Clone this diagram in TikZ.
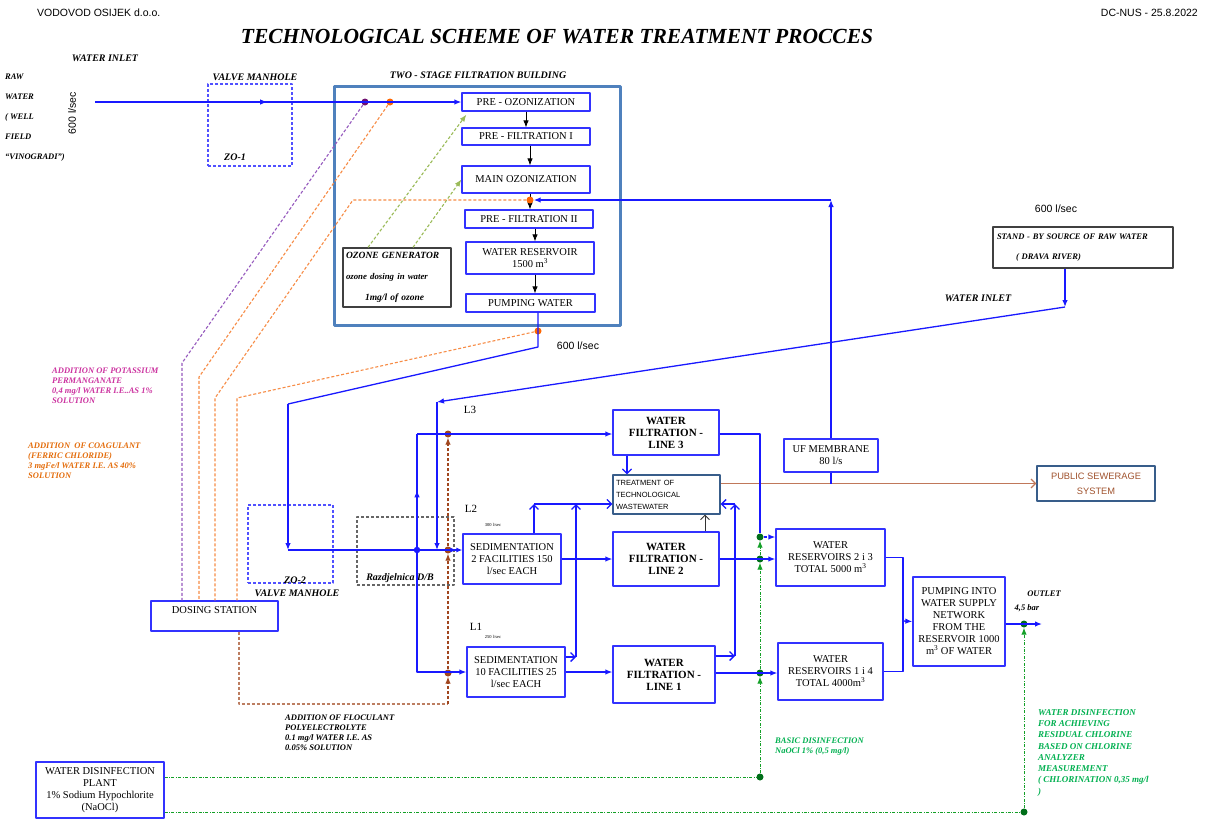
\documentclass[tikz,border=0pt]{standalone}
\usepackage{fontspec}
\setmainfont{Liberation Serif}
\newfontfamily\arialfont{Liberation Sans}
\usetikzlibrary{arrows.meta,decorations.markings}
\definecolor{vblue}{RGB}{25,25,255}
\definecolor{boxblue}{RGB}{50,50,255}
\definecolor{steel}{RGB}{79,129,189}
\definecolor{steeldk}{RGB}{56,93,138}
\definecolor{kmnline}{RGB}{150,90,190}
\definecolor{kmndot}{RGB}{112,16,112}
\definecolor{kmntxt}{RGB}{204,51,160}
\definecolor{coag}{RGB}{247,140,70}
\definecolor{coagdot}{RGB}{255,102,0}
\definecolor{coagtxt}{RGB}{228,108,10}
\definecolor{flocbrown}{RGB}{160,70,30}
\definecolor{sewbrown}{RGB}{192,120,90}
\definecolor{sewtxt}{RGB}{160,82,45}
\definecolor{clgreen}{RGB}{20,160,40}
\definecolor{cldot}{RGB}{0,110,25}
\definecolor{cltxt}{RGB}{0,176,80}
\definecolor{ozgreen}{RGB}{155,187,89}

\begin{document}
\begin{tikzpicture}[x=1pt,y=-1pt,>={Latex[length=7pt,width=5.5pt]},line join=round,
  box/.style={draw=boxblue,line width=1.3,fill=white,align=center,inner sep=1pt,font=\fontsize{10.5}{12}\selectfont},
  boldbox/.style={box,font=\bfseries\fontsize{11}{12}\selectfont},
  steelbox/.style={draw=steeldk,line width=1.3,fill=white,inner sep=3pt},
  greybox/.style={draw=black!75,line width=1.3,fill=white,inner sep=4pt,align=left,font=\bfseries\itshape\fontsize{8.5}{20}\selectfont},
  lab/.style={font=\bfseries\itshape\fontsize{10}{12}\selectfont,inner sep=0pt},
  note/.style={font=\bfseries\itshape\fontsize{8.5}{10}\selectfont,align=left,anchor=north west,inner sep=0pt},
  sans/.style={font=\arialfont\fontsize{10.5}{12}\selectfont,inner sep=0pt},
  flow/.style={vblue,line width=1.3},
  open/.style={-{Straight Barb[length=4.5pt,width=9pt]}},
  dosing/.style={line width=1.1,dash pattern=on 3pt off 2pt},
  chlor/.style={clgreen,line width=1,dash pattern=on 3pt off 1.5pt on 0.8pt off 1.5pt},
  jdot/.style={circle,fill=#1,inner sep=0pt,minimum size=7pt},
  midarrow/.style={postaction={decorate},decoration={markings,mark=at position #1 with {\arrow{>}}}},
  manhole/.style={draw=boxblue!85,line width=1.2,dash pattern=on 3pt off 2pt}
]
\fill[white] (0,0) rectangle (1205,820);
\useasboundingbox (0,0) rectangle (1205,820);

% header
\node[sans,anchor=west] (firm) at (37,13) {VODOVOD OSIJEK d.o.o.};
\node[sans,anchor=east] (dated) at (1198,13) {DC-NUS - 25.8.2022};
\node[font=\bfseries\itshape\fontsize{21.5}{24}\selectfont] (title) at (557,37) {TECHNOLOGICAL SCHEME OF WATER TREATMENT PROCCES};

% raw water, ZO-1
\node[lab] (inlet) at (105,58) {WATER INLET};
\node[note,font=\bfseries\itshape\fontsize{8.5}{20}\selectfont] (well) at (5,74) {RAW\\WATER\\( WELL\\FIELD\\``VINOGRADI'')};
\node[sans,rotate=90] (qwell) at (72,113) {600 l/sec};
\node[manhole,minimum width=84,minimum height=82] (zo1) at (250,125) {};
\node[lab] (zo1vm) at (255,77) {VALVE MANHOLE};
\node[lab] (zo1lbl) at (235,157) {ZO-1};

% two-stage filtration building
\node[draw=steel,line width=3,minimum width=286,minimum height=239] (bld) at (477,205.5) {};
\node[lab] (bldlbl) at (478,75) {TWO - STAGE FILTRATION BUILDING};
\node[box,minimum width=128,minimum height=18] (preoz) at (526,102) {PRE - OZONIZATION};
\node[box,minimum width=128,minimum height=17] (prefil1) at (526,136.5) {PRE - FILTRATION I};
\node[box,minimum width=128,minimum height=27] (mainoz) at (526,179.5) {MAIN OZONIZATION};
\node[box,minimum width=128,minimum height=18] (prefil2) at (529,219) {PRE - FILTRATION II};
\node[box,minimum width=128,minimum height=32] (res1500) at (530,258) {WATER RESERVOIR\\1500 m\textsuperscript{3}};
\node[box,minimum width=129,minimum height=18] (pumpw) at (530.5,303) {PUMPING WATER};
\node[greybox,minimum height=59,text width=102,inner sep=3pt,font=\bfseries\itshape\fontsize{9.5}{21}\selectfont] (ozgen) at (397,277.5) {OZONE GENERATOR\\{\fontsize{8.8}{21}\selectfont ozone dosing in water}\\\hspace*{19pt}1mg/l of ozone};
\node[sans] (qpump) at (578,346) {600 l/sec};
\draw[->,line width=0.8] (preoz.south) -- (prefil1.north);
\draw[->,line width=0.8] ([xshift=4pt]prefil1.south) -- ([xshift=4pt]prefil1.south |- mainoz.north);
\draw[->,line width=0.8] ([xshift=4pt]mainoz.south) -- ([xshift=4pt]mainoz.south |- prefil2.north);
\draw[->,line width=0.8] ([xshift=6pt]prefil2.south) -- ([xshift=6pt]prefil2.south |- res1500.north);
\draw[->,line width=0.8] ([xshift=5pt]res1500.south) -- ([xshift=5pt]res1500.south |- pumpw.north);
\draw[ozgreen,dosing,->] ([xshift=-29pt]ozgen.north) -- ([xshift=5pt,yshift=-3pt]preoz.south west);
\draw[ozgreen,dosing,->] ([xshift=16pt]ozgen.north) -- (mainoz.west);

% stand-by source
\node[greybox,minimum height=41,text width=172] (standby) at (1083,247.5) {STAND - BY SOURCE OF RAW WATER\\\hspace*{19pt}( DRAVA RIVER)};
\node[sans] (qdrava) at (1056,209) {600 l/sec};
\node[lab] (inlet2) at (978,298) {WATER INLET};

% dosing
\node[box,minimum width=127,minimum height=30,text depth=12pt] (dst) at (214.5,616) {DOSING STATION};
\node[note,text=kmntxt] (kmno) at (52,368) {ADDITION OF POTASSIUM\\PERMANGANATE\\0,4 mg/l WATER I.E..AS 1\%\\SOLUTION};
\node[note,text=coagtxt] (fecl) at (28,443) {ADDITION\ \ OF COAGULANT\\(FERRIC CHLORIDE)\\3 mgFe/l WATER I.E. AS 40\%\\SOLUTION};
\node[note] (floc) at (285,715) {ADDITION OF FLOCULANT\\POLYELECTROLYTE\\0.1 mg/l WATER I.E. AS\\0.05\% SOLUTION};

% ZO-2, Razdjelnica
\node[manhole,minimum width=85,minimum height=78] (zo2) at (290.5,544) {};
\node[lab] (zo2lbl) at (295,580) {ZO-2};
\node[lab] (zo2vm) at (297,593) {VALVE MANHOLE};
\node[draw=black!60,dosing,minimum width=97,minimum height=68] (razd) at (405.5,551) {};
\node[lab,font=\bfseries\itshape\fontsize{10}{12}\selectfont] (razdlbl) at (400,578) {Razdjelnica D/B};

% lines L1-L3
\node[font=\fontsize{11}{12}\selectfont] (l3) at (470,410) {L3};
\node[font=\fontsize{11}{12}\selectfont] (l2) at (471,509) {L2};
\node[font=\fontsize{11}{12}\selectfont] (l1) at (476,627) {L1};
\node[font=\fontsize{4.5}{5}\selectfont] (ql2) at (493,525) {300 l/sec};
\node[font=\fontsize{4.5}{5}\selectfont] (ql1) at (493,637) {250 l/sec};
\node[box,minimum width=98,minimum height=50] (sed2) at (512,559) {SEDIMENTATION\\2 FACILITIES 150\\l/sec EACH};
\node[box,minimum width=98,minimum height=50] (sed1) at (516,672) {SEDIMENTATION\\10 FACILITIES 25\\l/sec EACH};
\node[boldbox,minimum width=106,minimum height=45] (fil3) at (666,432.5) {WATER\\FILTRATION -\\LINE 3};
\node[boldbox,minimum width=106,minimum height=54] (fil2) at (666,559) {WATER\\FILTRATION -\\LINE 2};
\node[boldbox,minimum width=102,minimum height=57] (fil1) at (664,674.5) {WATER\\FILTRATION -\\LINE 1};
\node[steelbox,minimum height=39,text width=101,align=left,font=\arialfont\fontsize{7.5}{12}\selectfont] (treat) at (666.5,494.5) {TREATMENT OF\\TECHNOLOGICAL\\WASTEWATER};
\node[steelbox,minimum width=118,minimum height=35,align=center,text=sewtxt,font=\arialfont\fontsize{9.3}{15}\selectfont] (sewer) at (1096,483.5) {PUBLIC SEWERAGE\\SYSTEM};
\node[box,minimum width=94,minimum height=33] (uf) at (831,455.5) {UF MEMBRANE\\80 l/s};

% reservoirs, outlet
\node[box,minimum width=109,minimum height=57] (res23) at (830.5,557.5) {WATER\\RESERVOIRS 2 i 3\\TOTAL 5000 m\textsuperscript{3}};
\node[box,minimum width=105,minimum height=57] (res14) at (830.5,671.5) {WATER\\RESERVOIRS 1 i 4\\TOTAL 4000m\textsuperscript{3}};
\node[box,minimum width=92,minimum height=89] (pumpnet) at (959,621.5) {PUMPING INTO\\WATER SUPPLY\\NETWORK\\FROM THE\\RESERVOIR 1000\\m\textsuperscript{3} OF WATER};
\node[lab,font=\bfseries\itshape\fontsize{8.5}{12}\selectfont] (outlbl) at (1044,594) {OUTLET};
\node[lab,font=\bfseries\itshape\fontsize{8.5}{12}\selectfont] (barlbl) at (1027,608) {4,5 bar};

% disinfection
\node[box,minimum width=128,minimum height=56] (disinf) at (100,790) {WATER DISINFECTION\\PLANT\\1\% Sodium Hypochlorite\\(NaOCl)};
\node[note,text=cltxt] (basic) at (775,738) {BASIC DISINFECTION\\NaOCl 1\% (0,5 mg/l)};
\node[note,text=cltxt,font=\bfseries\itshape\fontsize{9}{11.3}\selectfont] (resid) at (1038,709) {WATER DISINFECTION\\FOR ACHIEVING\\RESIDUAL CHLORINE\\BASED ON CHLORINE\\ANALYZER\\MEASUREMENT\\( CHLORINATION 0,35 mg/l\\)};

% coordinates of bends
\coordinate (rawin) at (95,102);
\coordinate (k0) at (182,363);
\coordinate (f1) at (199,377);
\coordinate (f2a) at (353,200);
\coordinate (f2b) at (215,398);
\coordinate (f3) at (237,398);
\coordinate (fl0) at (239,704);
\coordinate (fl1) at (448,704);
\coordinate (o1) at (538,347);
\coordinate (o2) at (288,404);
\coordinate (o3) at (288,550);
\coordinate (d1) at (1065,307);
\coordinate (d2) at (437,402);
\coordinate (tw) at (534,504);
\coordinate (t1) at (576,657);
\coordinate (t2) at (735,656);
\coordinate (r1) at (760,434);
\coordinate (p1) at (903,621);
\coordinate (outend) at (1042,624);

% dots
\node[jdot=kmndot] (kdot) at (365,102) {};
\node[jdot=coagdot] (fdot1) at (390,102) {};
\node[jdot=coagdot] (fdot2) at (530,200) {};
\node[jdot=coagdot] (fdot3) at (538,331) {};
\node[jdot=vblue,minimum size=6.5pt] (split) at (417,550) {};
\node[jdot=flocbrown] (bdot1) at (448,434) {};
\node[jdot=flocbrown] (bdot2) at (448,550) {};
\node[jdot=flocbrown] (bdot3) at (448,673) {};
\node[jdot=cldot] (gdot1) at (760,537) {};
\node[jdot=cldot] (gdot2) at (760,559) {};
\node[jdot=cldot] (gdot3) at (760,673) {};
\node[jdot=cldot] (gdot4) at (760,777) {};
\node[jdot=cldot] (gdot5) at (1024,624) {};
\node[jdot=cldot] (gdot6) at (1024,812) {};

% raw water
\draw[flow,->,midarrow=0.47] (rawin) -- (preoz.west);
\draw[flow] (pumpw.south -| o1) -- (o1) -- (o2);
\draw[flow,->] (o2) -- (o3);
\draw[flow] (o3) -- (split);
\draw[flow,->] (standby.south -| d1) -- (d1);
\draw[flow,->] (d1) -- (d2);
\draw[flow,->] (d2) -- (d2 |- split);
\draw[flow,-{Latex[length=6pt,width=5pt]Latex[length=6pt,width=5pt]}] (split) -- (split -| sed2.west);
\draw[flow,midarrow=0.5] (split) -- (split |- bdot1);
\draw[flow,->] (split |- bdot1) -- (bdot1 -| fil3.west);
\draw[flow,->] (split) -- (split |- sed1.west) -- (sed1.west);
\draw[flow,->] (sed2.east) -- (sed2.east -| fil2.west);
\draw[flow,->] (sed1.east) -- (sed1.east -| fil1.west);

% technological wastewater
\draw[flow,open] (sed2.north -| tw) -- (tw);
\draw[flow,open] (tw) -- (tw -| treat.west);
\draw[flow,open] (sed1.east |- t1) -- (t1);
\draw[flow,open] (t1) -- (t1 |- tw);
\draw[flow,open] (fil1.east |- t2) -- (t2);
\draw[flow,open] (t2) -- (t2 |- tw);
\draw[flow,open] (t2 |- tw) -- (tw -| treat.east);
\draw[flow,open] ([xshift=-39pt]fil3.south) -- ([xshift=-39pt]fil3.south |- treat.north);
\draw[black!80,line width=0.8,open] ([xshift=39pt]fil2.north) -- ([xshift=39pt]fil2.north |- treat.south);
\draw[sewbrown,line width=1.2,open] (treat.east |- sewer.west) -- (sewer.west);
\draw[flow] (uf.south) -- (uf.south |- sewer.west);
\draw[flow,->] (uf.north) -- (uf.north |- fdot2);
\draw[flow,->] (uf.north |- fdot2) -- (fdot2);

% to reservoirs
\draw[flow] (fil3.east |- r1) -- (r1) -- (gdot1);
\draw[flow,dashed,->] (gdot1) -- (gdot1 -| res23.west);
\draw[flow,->] (fil2.east) -- (fil2.east -| res23.west);
\draw[flow,->] (fil1.east |- gdot3) -- (gdot3 -| res14.west);
\draw[flow] (res23.east) -- (res23.east -| p1) -- (res14.east -| p1) -- (res14.east);
\draw[flow,->] (p1) -- (pumpnet.west);
\draw[flow,->] (pumpnet.east |- outend) -- (outend);

% chemical dosing
\draw[kmnline,dosing] (kdot) -- (k0) -- (k0 |- dst.north);
\draw[coag,dosing] (fdot1) -- (f1) -- (f1 |- dst.north);
\draw[coag,dosing] (fdot2) -- (f2a) -- (f2b) -- (f2b |- dst.north);
\draw[coag,dosing] (fdot3) -- (f3) -- (f3 |- dst.north);
\draw[flocbrown!70,dosing] (fl0 |- dst.south) -- (fl0) -- (fl1);
\draw[flocbrown,dosing,->] (fl1) -- (bdot3);
\draw[flocbrown,dosing,->] (bdot3) -- (bdot2);
\draw[flocbrown,dosing,->] (bdot2) -- (bdot1);

% chlorination
\draw[chlor] (disinf.east |- gdot4) -- (gdot4);
\draw[chlor] (disinf.east |- gdot6) -- (gdot6);
\draw[chlor,->] (gdot4) -- (gdot3);
\draw[chlor,->] (gdot3) -- (gdot2);
\draw[chlor,->] (gdot2) -- (gdot1);
\draw[chlor,->] (gdot6) -- (gdot5);
\end{tikzpicture}
\end{document}
